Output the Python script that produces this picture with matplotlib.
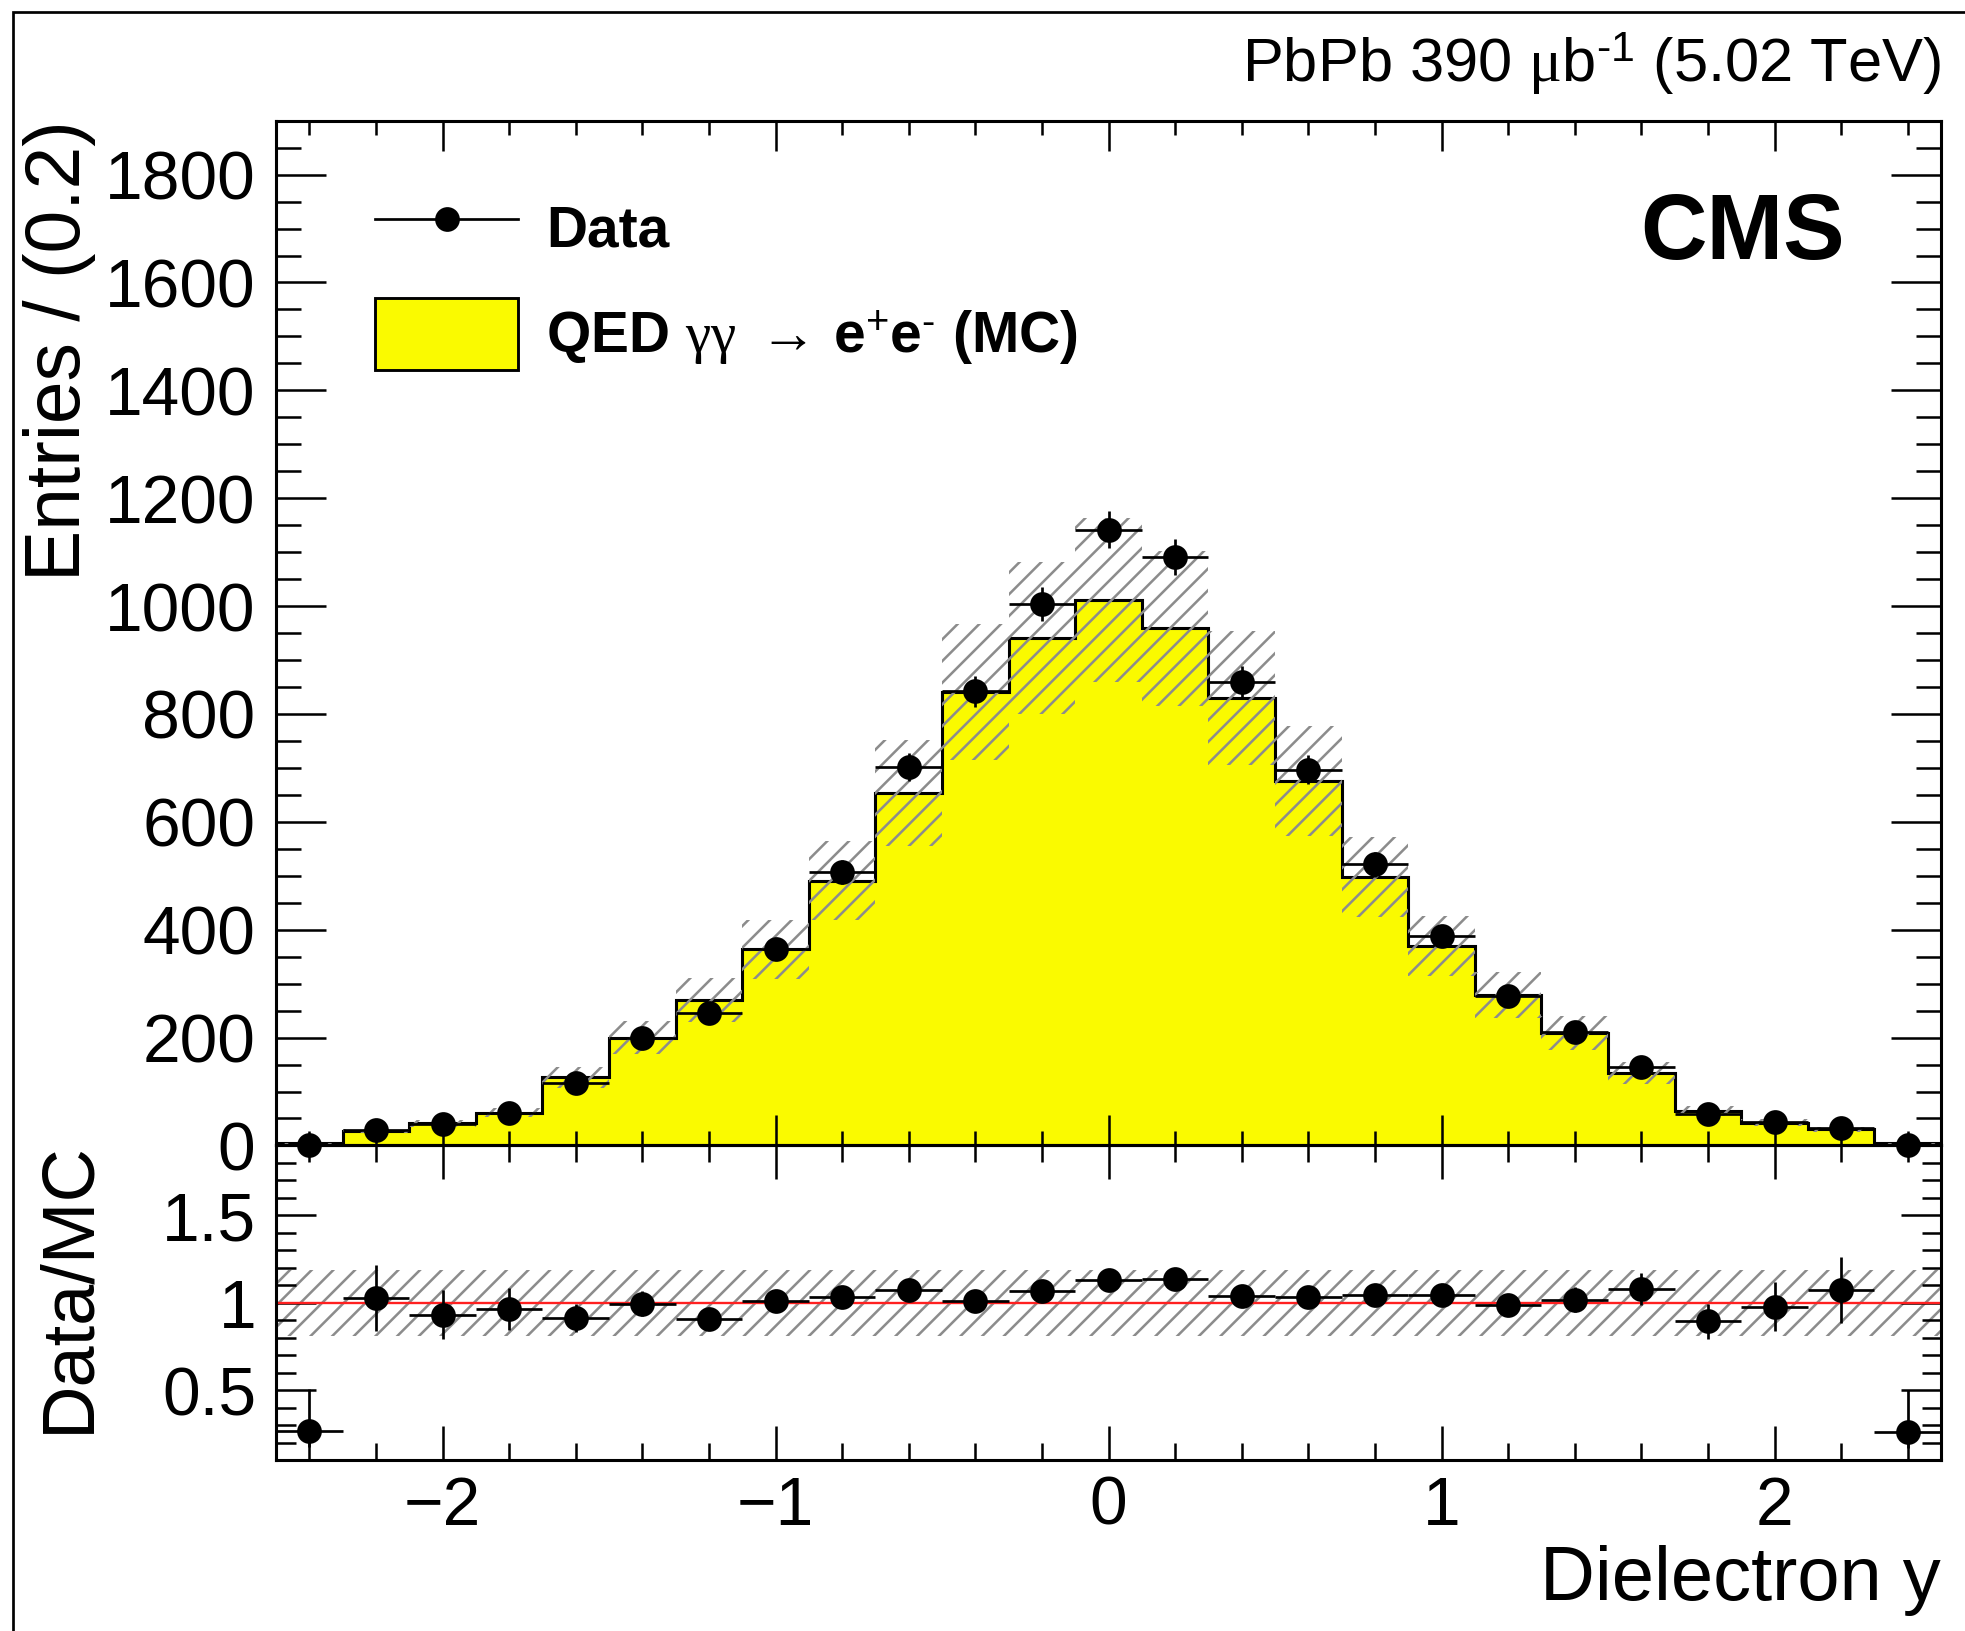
import numpy as np
import matplotlib
matplotlib.use('Agg')
import matplotlib.pyplot as plt
from matplotlib.lines import Line2D
from matplotlib.patches import Patch, Rectangle
from matplotlib.ticker import MultipleLocator, FuncFormatter

# binning in dielectron rapidity
bin_edges = np.linspace(-2.5, 2.5, 26)

# QED gamma gamma -> ee MC prediction (entries per bin)
mc_counts = [3.7, 27, 41, 61, 126, 200, 270, 364, 491, 653, 841, 941, 1011,
             959, 830, 676, 498, 370, 279, 209, 135, 64, 42, 30, 3.7]
# data entries and their stat. errors
data_counts = [1, 28, 40, 60, 115, 200, 245, 365, 507, 702, 842, 1004, 1142,
               1091, 860, 697, 521, 388, 277, 211, 146, 58, 44, 32, 1]
data_err = [1, 5.3, 6.3, 7.7, 10.7, 14.1, 15.7, 19.1, 22.5, 26.5, 29, 31.7, 33.8,
            33, 29.3, 26.4, 22.8, 19.7, 16.6, 14.5, 12.1, 7.6, 6.6, 5.7, 1]

# Data/MC ratio
ratio_vals = [0.268, 1.029, 0.933, 0.966, 0.914, 0.996, 0.910, 1.009, 1.034, 1.076,
              1.009, 1.066, 1.133, 1.139, 1.038, 1.032, 1.047, 1.047, 0.990, 1.019,
              1.080, 0.895, 0.977, 1.072, 0.259]
ratio_err_lo = [0.09, 0.19, 0.14, 0.12, 0.08, 0.07, 0.06, 0.05, 0.045, 0.04, 0.035, 0.034, 0.033,
                0.034, 0.035, 0.04, 0.045, 0.053, 0.06, 0.07, 0.09, 0.10, 0.14, 0.19, 0.09]
ratio_err_hi = [0.24, 0.19, 0.14, 0.12, 0.08, 0.07, 0.06, 0.05, 0.045, 0.04, 0.035, 0.034, 0.033,
                0.034, 0.035, 0.04, 0.045, 0.053, 0.06, 0.07, 0.09, 0.10, 0.14, 0.19, 0.24]

mc_rel_unc = 0.15     # hatched band on the MC histogram
ratio_band = 0.19     # hatched band in the ratio panel

plt.rcParams['font.family'] = ['Liberation Sans', 'DejaVu Sans']
plt.rcParams['mathtext.fontset'] = 'custom'
plt.rcParams['mathtext.rm'] = 'Liberation Sans'
plt.rcParams['mathtext.it'] = 'Liberation Serif'
plt.rcParams['mathtext.bf'] = 'Liberation Sans:bold'
plt.rcParams['hatch.color'] = '#8c8c8c'
plt.rcParams['hatch.linewidth'] = 1.4

DPI = 130
W, H = 1965, 1631
yellow = '#fafa00'
TICK_FS = 37.5
LABEL_FS = 42.5

mc = np.array(mc_counts, dtype=float)
centers = 0.5 * (bin_edges[:-1] + bin_edges[1:])
half_w = 0.5 * np.diff(bin_edges)

fig = plt.figure(figsize=(W / DPI, H / DPI), dpi=DPI)
ax = fig.add_axes([0.1405, 0.2977, 0.8473, 0.6283])
ax2 = fig.add_axes([0.1405, 0.1047, 0.8473, 0.1930], sharex=ax)
ax2.set_facecolor('none')

# ---- upper panel
ax.stairs(mc, bin_edges, fill=True, facecolor=yellow, edgecolor='none', zorder=1)
ax.stairs(mc, bin_edges, fill=False, color='k', linewidth=1.7, zorder=1.5)
ax.stairs(mc * (1 + mc_rel_unc), bin_edges, baseline=mc * (1 - mc_rel_unc), fill=True,
          facecolor='none', edgecolor='#8c8c8c', linewidth=0, hatch='//', zorder=2)
eb = ax.errorbar(centers, data_counts, yerr=data_err, xerr=half_w, fmt='o', color='k',
                 ms=12.7, elinewidth=1.5, capsize=0, zorder=3)
for art in eb.get_children():
    art.set_clip_on(False)

ax.set_xlim(bin_edges[0], bin_edges[-1])
ax.set_ylim(0, 1900)
ax.yaxis.set_major_locator(MultipleLocator(200))
ax.yaxis.set_minor_locator(MultipleLocator(50))
ax.xaxis.set_major_locator(MultipleLocator(1))
ax.xaxis.set_minor_locator(MultipleLocator(0.2))
ax.tick_params(which='both', direction='in', top=True, right=True, width=1.4,
               labelbottom=False, labelsize=TICK_FS)
ax.tick_params(axis='x', which='major', length=16.6)
ax.tick_params(axis='x', which='minor', length=7.8)
ax.tick_params(axis='y', which='major', length=27.7, pad=11.5)
ax.tick_params(axis='y', which='minor', length=13.8)
for s in ax.spines.values():
    s.set_linewidth(1.7)

ax.set_ylabel('Entries / (0.2)', fontsize=LABEL_FS, loc='top')
ax.yaxis.set_label_coords(-0.108, 1.0)

handles = [Line2D([], [], color='k', marker='o', ms=12.7, lw=1.5),
           Patch(facecolor=yellow, edgecolor='k', linewidth=1.6)]
labels = ['Data', r'QED $\gamma\gamma$ $\rightarrow\,$e$^{+}$e$^{\text{-}}$ (MC)']
ax.legend(handles, labels, loc='upper left', bbox_to_anchor=(0.0597, 0.9306),
          frameon=False, borderpad=0, borderaxespad=0, handlelength=2.5,
          handleheight=1.574, handletextpad=0.5, labelspacing=0.6,
          prop={'weight': 'bold', 'size': 31.5})

ax.text(0.942, 0.8648, 'CMS', transform=ax.transAxes, ha='right', va='baseline',
        fontsize=51, fontweight='bold')
ax.text(1.0, 1.039, r'PbPb 390 $\mu$b$^{\text{-}1}$ (5.02 TeV)', transform=ax.transAxes,
        ha='right', va='baseline', fontsize=34)

# ---- ratio panel
ax2.fill_between([bin_edges[0], bin_edges[-1]], 1 - ratio_band, 1 + ratio_band,
                 facecolor='none', edgecolor='#8c8c8c', linewidth=0, hatch='//', zorder=1)
ax2.axhline(1.0, color='#ff2020', linewidth=1.3, zorder=2)
ax2.errorbar(centers, ratio_vals, yerr=[ratio_err_lo, ratio_err_hi], xerr=half_w,
             fmt='o', color='k', ms=12.7, elinewidth=1.5, capsize=0, zorder=3)

ax2.set_ylim(0.1, 1.9)
ax2.yaxis.set_major_locator(MultipleLocator(0.5))
ax2.yaxis.set_minor_locator(MultipleLocator(0.1))
ax2.yaxis.set_major_formatter(FuncFormatter(lambda v, p: '%g' % v))
ax2.tick_params(which='both', direction='in', top=True, right=True, width=1.4,
                labelsize=TICK_FS)
ax2.tick_params(axis='x', which='major', length=19, pad=8)
ax2.tick_params(axis='x', which='minor', length=9.4)
ax2.tick_params(axis='y', which='major', length=22, pad=11)
ax2.tick_params(axis='y', which='minor', length=10.8)
for s in ax2.spines.values():
    s.set_linewidth(1.7)

ax2.set_ylabel('Data/MC', fontsize=41, loc='top')
ax2.yaxis.set_label_coords(-0.104, 1.015)
ax2.set_xlabel('Dielectron y', fontsize=42, loc='right')
ax2.xaxis.set_label_coords(1.0, -0.27)

# canvas frame (only left/top edges fall inside the picture)
fig.add_artist(Rectangle((13 / W, -1), 3, 2 - 12 / H, transform=fig.transFigure,
                         fill=False, edgecolor='k', linewidth=1.5))

fig.savefig('out.png', dpi=DPI)
